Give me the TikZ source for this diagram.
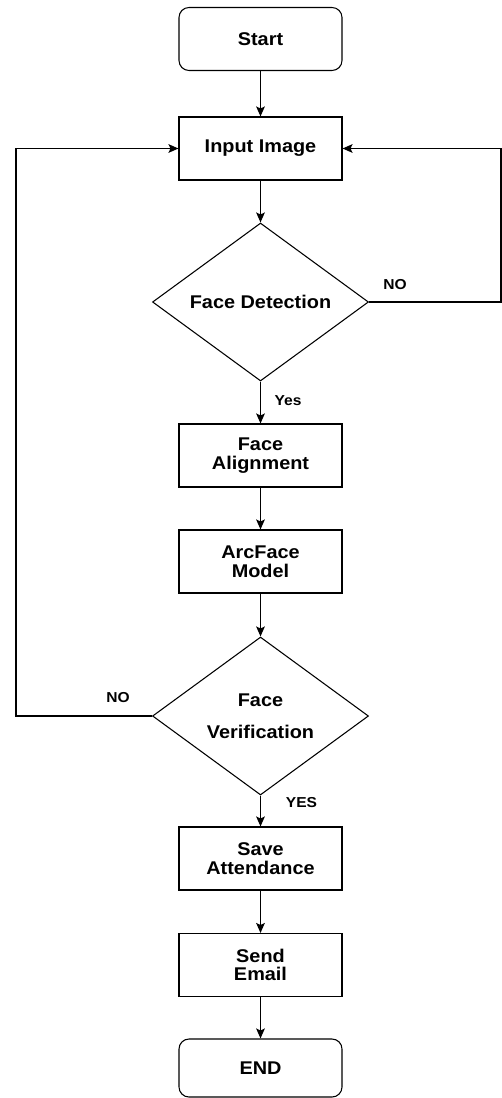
\documentclass[tikz,border=0pt]{standalone}
\usepackage{fontspec}
\setmainfont{Liberation Sans}[FakeStretch=1.08]
\usetikzlibrary{shapes.geometric,arrows.meta}
\newlength{\pxu}\setlength{\pxu}{0.75pt}
\begin{document}
\begin{tikzpicture}[x=0.75pt,y=-0.75pt,
  every node/.style={font=\bfseries\fontsize{13.8pt}{14pt}\selectfont},
  proc/.style={draw, line width=0.8pt, minimum width=163\pxu, minimum height=63\pxu, inner sep=2pt, align=center},
  term/.style={proc, rounded corners=10\pxu},
  decision/.style={draw, line width=0.8pt, diamond, minimum width=216\pxu, minimum height=158\pxu, inner sep=0pt, align=center},
  lbl/.style={font=\bfseries\fontsize{10.8pt}{12pt}\selectfont},
  arr/.style={-{Stealth[length=7.5pt,width=6.5pt,inset=1.5pt]}, line width=1pt},
]
\useasboundingbox (0,0) rectangle (502,1098);
\node[term] (start) at (260.5,39) {Start};
\node[proc] (input) at (260.5,148.5) {Input Image};
\node[decision] (fd) at (260.5,302) {Face Detection};
\node[proc] (fa) at (260.5,455.5) {Face\\Alignment};
\node[proc] (arc) at (260.5,561.5) {ArcFace\\Model};
\node[decision] (fv) at (260.5,716) {Face\\[10pt]Verification};
\node[proc] (save) at (260.5,858.5) {Save\\Attendance};
\node[proc] (send) at (260.5,965) {Send\\Email};
\node[term, minimum height=58\pxu] (end) at (260.5,1068) {END};

\node[lbl] (no1) at (395,285) {NO};
\node[lbl] (yes1) at (288,401) {Yes};
\node[lbl] (no2) at (118,698) {NO};
\node[lbl] (yes2) at (301.5,803) {YES};

\coordinate (r1) at (501,302);
\coordinate (l1) at (16,716);

\draw[arr] (start) -- (input);
\draw[arr] (input) -- (fd);
\draw[arr] (fd) -- (fa);
\draw[arr] (fa) -- (arc);
\draw[arr] (arc) -- (fv);
\draw[arr] (fv) -- (save);
\draw[arr] (save) -- (send);
\draw[arr] (send) -- (end);
\draw[arr] (fd.east) -- (r1) |- (input.east);
\draw[arr] (fv.west) -- (l1) |- (input.west);
\end{tikzpicture}
\end{document}
